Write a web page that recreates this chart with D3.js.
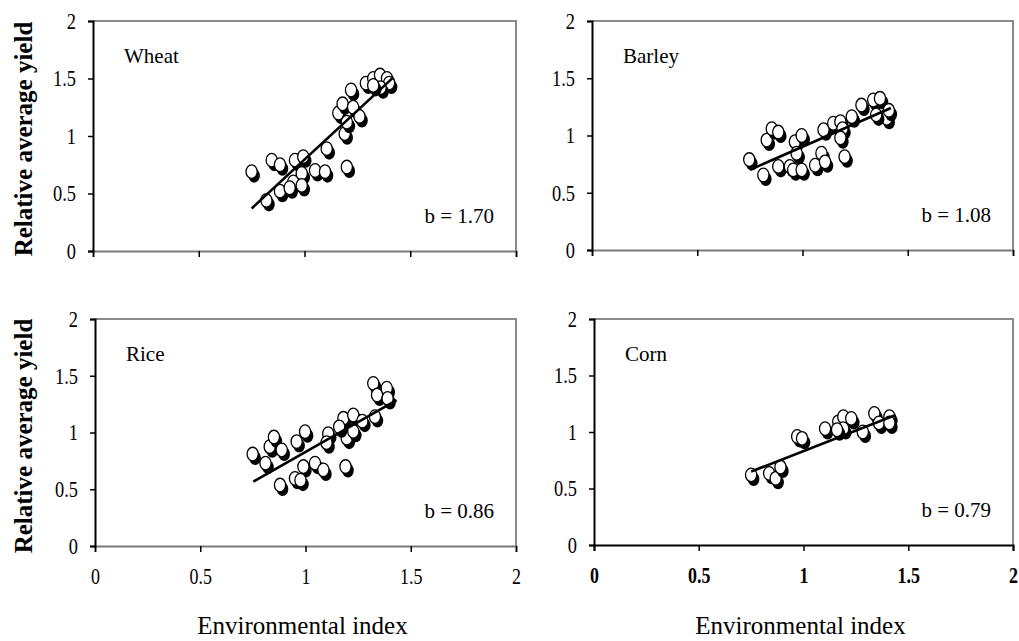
<!DOCTYPE html>
<html><head><meta charset="utf-8">
<script src="https://cdn.jsdelivr.net/npm/d3@7"></script>
<style>
html,body{margin:0;padding:0;background:#fff;}
svg{display:block;}
svg text{font-family:"Liberation Serif","Times New Roman",Times,serif !important;}
</style></head>
<body>
<svg id="chart" width="1019" height="641"></svg>
<script>
// ---- data ----
const crops = ["Wheat", "Barley", "Rice", "Corn"];
const slopes = ["b = 1.70", "b = 1.08", "b = 0.86", "b = 0.79"];
const xTicks = [0, 0.5, 1, 1.5, 2];
const yTicks = [0, 0.5, 1, 1.5, 2];

const wheatX = [0.75,0.845,0.884,0.82,0.884,0.955,0.994,0.947,0.987,0.987,1.05,1.097,1.105,1.20,1.19,1.16,1.18,1.22,1.23,1.26,1.20,1.29,1.325,1.357,1.39,1.40,1.36,1.325,0.93];
const wheatY = [0.69,0.79,0.75,0.44,0.52,0.79,0.82,0.60,0.675,0.57,0.70,0.69,0.89,0.73,1.02,1.20,1.28,1.40,1.25,1.17,1.12,1.46,1.50,1.53,1.50,1.46,1.42,1.44,0.55];
const wheatFit = [[0.75,0.37],[1.42,1.51]];

const barleyX = [0.747,0.814,0.83,0.854,0.885,0.885,0.94,0.964,0.996,0.972,0.956,0.996,1.06,1.09,1.107,1.10,1.146,1.18,1.19,1.20,1.234,1.28,1.336,1.368,1.40,1.35,1.41,1.18];
const barleyY = [0.79,0.655,0.96,1.06,1.03,0.73,0.73,0.946,1.00,0.845,0.70,0.70,0.74,0.845,0.77,1.05,1.107,1.12,1.06,0.815,1.164,1.266,1.31,1.325,1.15,1.18,1.22,0.98];
const barleyFit = [[0.75,0.70],[1.42,1.24]];

const riceX = [0.749,0.81,0.83,0.85,0.887,0.879,0.95,0.958,0.998,0.99,0.976,1.045,1.085,1.108,1.10,1.19,1.18,1.227,1.196,1.227,1.27,1.33,1.322,1.34,1.386,1.39,1.16];
const riceY = [0.81,0.73,0.875,0.96,0.846,0.537,0.596,0.92,1.007,0.70,0.58,0.73,0.67,0.99,0.91,0.70,1.125,1.154,0.95,1.01,1.10,1.14,1.433,1.33,1.39,1.30,1.05];
const riceFit = [[0.752,0.567],[1.433,1.286]];

const cornX = [0.75,0.836,0.867,0.89,0.97,0.993,1.103,1.166,1.19,1.228,1.19,1.283,1.338,1.36,1.41,1.41,1.16];
const cornY = [0.62,0.634,0.59,0.69,0.96,0.944,1.03,1.09,1.135,1.12,1.03,1.00,1.165,1.08,1.135,1.08,1.02];
const cornFit = [[0.75,0.65],[1.44,1.15]];

const seriesX = [wheatX, barleyX, riceX, cornX];
const seriesY = [wheatY, barleyY, riceY, cornY];
const fits = [wheatFit, barleyFit, riceFit, cornFit];

// ---- layout ----
const panels = [
  {l:93, t:21, r:516, b:251, xlab:false, bottomCol:"#7a7a7a"},
  {l:592, t:21, r:1013, b:250, xlab:false, bottomCol:"#7a7a7a"},
  {l:95, t:319, r:516, b:546, xlab:true, bottomCol:"#7a7a7a"},
  {l:594, t:319, r:1013, b:545, xlab:true, bottomCol:"#000"}
];
const FONT = "Liberation Serif, Times New Roman, serif";

const svg = d3.select("#chart");

panels.forEach((p, i) => {
  const x = d3.scaleLinear().domain([0, 2]).range([p.l, p.r]);
  const y = d3.scaleLinear().domain([0, 2]).range([p.b, p.t]);
  const g = svg.append("g");

  g.append("path")
    .attr("d", `M${p.l},${p.t}H${p.r}V${p.b}`)
    .attr("fill", "none").attr("stroke", "#8a8a8a").attr("stroke-width", 2);

  const xa = g.append("g").attr("transform", `translate(0,${p.b})`)
    .call(d3.axisBottom(x).tickValues(xTicks).tickSize(6).tickPadding(16)
      .tickFormat(p.xlab ? d3.format("") : () => ""));
  xa.attr("font-family", FONT);
  xa.select(".domain").attr("stroke", p.bottomCol).attr("stroke-width", 2);
  xa.selectAll(".tick line").attr("stroke", "#000").attr("stroke-width", 1.5);
  xa.selectAll("text").attr("font-size", 23)
    .attr("fill", "#000").attr("transform", "scale(0.78,1)")
    .attr("font-weight", i === 3 ? "bold" : "normal");

  const ya = g.append("g").attr("transform", `translate(${p.l},0)`)
    .call(d3.axisLeft(y).tickValues(yTicks).tickSize(5).tickPadding(12).tickFormat(d3.format("")));
  ya.attr("font-family", FONT);
  ya.select(".domain").attr("stroke", "#000").attr("stroke-width", 2);
  ya.selectAll(".tick line").attr("stroke", "#000").attr("stroke-width", 1.5);
  ya.selectAll("text").attr("font-size", 23).attr("fill", "#000").attr("dy", "0.32em")
    .attr("transform", "translate(-17,0) scale(0.8,1) translate(17,0)");

  const pts = seriesX[i].map((v, k) => [v, seriesY[i][k]]);
  const pg = g.append("g");
  pts.forEach(d => {
    pg.append("ellipse").attr("cx", x(d[0]) + 2.5).attr("cy", y(d[1]) + 4)
      .attr("rx", 5.8).attr("ry", 7).attr("fill", "#000");
    pg.append("ellipse").attr("cx", x(d[0])).attr("cy", y(d[1]))
      .attr("rx", 5.6).attr("ry", 6.8).attr("fill", "#fff")
      .attr("stroke", "#000").attr("stroke-width", 1.3);
  });

  g.append("path").datum(fits[i])
    .attr("d", d3.line().x(d => x(d[0])).y(d => y(d[1])))
    .attr("stroke", "#000").attr("stroke-width", 2.6).attr("fill", "none");

  g.append("text").attr("x", p.l + 31).attr("y", p.t + 42).attr("font-family", FONT)
    .attr("font-size", 21).attr("fill", "#000").text(crops[i]);
  g.append("text").attr("x", p.r - 22).attr("y", p.b - 28).attr("font-family", FONT)
    .attr("text-anchor", "end").attr("font-size", 21).attr("fill", "#000").text(slopes[i]);

  if (p.xlab) {
    g.append("text").attr("x", (p.l + p.r) / 2 - 3).attr("y", 634).attr("font-family", FONT)
      .attr("text-anchor", "middle").attr("font-size", 25).attr("fill", "#000")
      .text("Environmental index");
  }
});

[[23, 139], [23, 436]].forEach(([cx, cy]) => {
  svg.append("text").attr("transform", `translate(${cx + 9},${cy}) rotate(-90)`)
    .attr("font-family", FONT)
    .attr("text-anchor", "middle").attr("font-size", 25).attr("font-weight", "bold")
    .attr("fill", "#000").text("Relative average yield");
});
</script>
</body></html>
